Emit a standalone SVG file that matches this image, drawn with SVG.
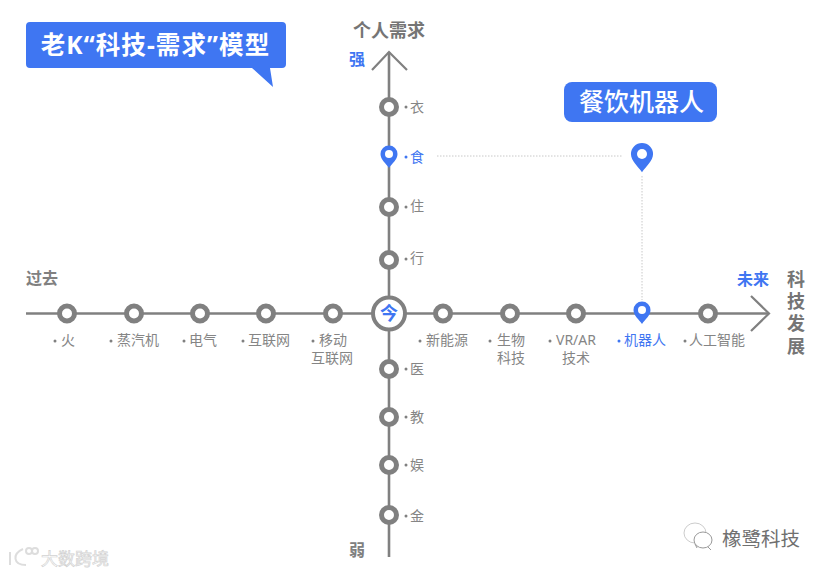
<svg xmlns="http://www.w3.org/2000/svg" width="827" height="574" viewBox="0 0 827 574">
<defs>
<style>
text{font-family:"Noto Sans","Noto Sans CJK SC",sans-serif}
.ax{stroke:#808080;stroke-width:2.600;fill:none}
.ah{stroke:#808080;stroke-width:2.200;fill:none}
.ring{fill:#fff;stroke:#808080;stroke-width:5}
.now{fill:#fff;stroke:#808080;stroke-width:4}
.l{font-size:14px;fill:#858585}
.b{fill:#3f76f2}
.lb{font-size:14px;fill:#3f76f2}
.h{font-size:16px;fill:#808080;font-weight:700}
.h2{font-size:18px;fill:#757575;font-weight:700}
.hb{font-size:16px;fill:#3f76f2;font-weight:700}
.dot{stroke:#c8c8c8;stroke-width:1;stroke-dasharray:1.5 1.5;fill:none}
.m{text-anchor:middle}
</style>
<path id="pin" d="M0 11C-3 6.500-8.500 2.500-8.500-3A8.500 8.500 0 0 1 8.500-3C8.500 2.500 3 6.500 0 11Z" fill="#3f76f2"/>
</defs>
<rect width="827" height="574" fill="#fff"/>
<g id="connectors">
<path class="ax" d="M26 313.500H768"/>
<path class="ax" d="M389 52V557"/>
<path class="ah" d="M751 296L769 313.500L751 331"/>
<path class="ah" d="M372 70L389 52L407 70"/>
<path class="dot" d="M437 156H622"/>
<path class="dot" d="M642 176V300"/>
</g>
<g id="title"><path class="b" d="M30 22H282a4 4 0 0 1 4 4V64a4 4 0 0 1-4 4H270L273 87L252 68H30a4 4 0 0 1-4-4V26a4 4 0 0 1 4-4Z"/><text x="155.500" y="54" class="m" font-size="24.500" font-weight="700" letter-spacing="1.100" fill="#fff">老K“科技-需求”模型</text></g>
<g id="label-restaurant"><rect x="564" y="82" width="153" height="40" rx="8" class="b"/><text x="641.500" y="111" class="m" font-size="25" font-weight="500" fill="#fff">餐饮机器人</text></g>
<g id="axis-labels">
<text x="389" y="37" class="h2 m">个人需求</text>
<text x="357" y="65" class="hb m">强</text>
<text x="357" y="556" class="h m">弱</text>
<text x="42" y="284" class="h m">过去</text>
<text x="753" y="285" class="hb m">未来</text>
<text x="796" y="286" class="h2 m">科</text>
<text x="796" y="308" class="h2 m">技</text>
<text x="796" y="330" class="h2 m">发</text>
<text x="796" y="353" class="h2 m">展</text>
</g>
<g id="now"><circle cx="389" cy="313.500" r="16" class="now"/><text x="389" y="320" class="m" font-size="18" font-weight="700" fill="#3f76f2">今</text></g>
<g id="n-huo"><circle cx="67" cy="313.500" r="7.500" class="ring"/><text x="68" y="345" class="l m">火</text><circle cx="55" cy="341" r="1.500" fill="#808080"/></g>
<g id="n-steam"><circle cx="134" cy="313.500" r="7.500" class="ring"/><text x="138" y="345" class="l m">蒸汽机</text><circle cx="111" cy="341" r="1.500" fill="#808080"/></g>
<g id="n-elec"><circle cx="200" cy="313.500" r="7.500" class="ring"/><text x="203" y="345" class="l m">电气</text><circle cx="184" cy="341" r="1.500" fill="#808080"/></g>
<g id="n-net"><circle cx="266" cy="313.500" r="7.500" class="ring"/><text x="269" y="345" class="l m">互联网</text><circle cx="243" cy="341" r="1.500" fill="#808080"/></g>
<g id="n-mobile"><circle cx="333" cy="313.500" r="7.500" class="ring"/><text class="l m"><tspan x="333" y="345">移动</tspan><tspan x="332" y="363">互联网</tspan></text><circle cx="313" cy="341" r="1.500" fill="#808080"/></g>
<g id="n-energy"><circle cx="443" cy="313.500" r="7.500" class="ring"/><text x="447" y="345" class="l m">新能源</text><circle cx="420" cy="341" r="1.500" fill="#808080"/></g>
<g id="n-bio"><circle cx="510" cy="313.500" r="7.500" class="ring"/><text class="l m"><tspan x="511" y="345">生物</tspan><tspan x="511" y="363">科技</tspan></text><circle cx="490" cy="341" r="1.500" fill="#808080"/></g>
<g id="n-vr"><circle cx="576" cy="313.500" r="7.500" class="ring"/><text class="l m"><tspan x="576" y="345">VR/AR</tspan><tspan x="576" y="363">技术</tspan></text><circle cx="550" cy="341" r="1.500" fill="#808080"/></g>
<g id="n-robot"><use href="#pin" x="642" y="313"/><circle cx="642" cy="310" r="4" fill="#fff"/><text x="645" y="345" class="lb m">机器人</text><circle cx="619" cy="341" r="1.500" fill="#3f76f2"/></g>
<g id="n-ai"><circle cx="708" cy="313.500" r="7.500" class="ring"/><text x="717" y="345" class="l m">人工智能</text><circle cx="685" cy="341" r="1.500" fill="#808080"/></g>
<g id="n-yi"><circle cx="389" cy="107" r="7.500" class="ring"/><text x="417" y="112" class="l m">衣</text><circle cx="406" cy="107" r="1.500" fill="#808080"/></g>
<g id="n-shi"><use href="#pin" x="389" y="157"/><circle cx="389" cy="154" r="4" fill="#fff"/><text x="417" y="162" class="lb m">食</text><circle cx="406" cy="157" r="1.500" fill="#3f76f2"/></g>
<g id="n-zhu"><circle cx="389" cy="207" r="7.500" class="ring"/><text x="417" y="211" class="l m">住</text><circle cx="406" cy="207" r="1.500" fill="#808080"/></g>
<g id="n-xing"><circle cx="389" cy="260" r="7.500" class="ring"/><text x="417" y="263" class="l m">行</text><circle cx="406" cy="259" r="1.500" fill="#808080"/></g>
<g id="n-health"><circle cx="389" cy="369" r="7.500" class="ring"/><text x="417" y="374" class="l m">医</text><circle cx="406" cy="369" r="1.500" fill="#808080"/></g>
<g id="n-edu"><circle cx="389" cy="417" r="7.500" class="ring"/><text x="417" y="422" class="l m">教</text><circle cx="406" cy="417" r="1.500" fill="#808080"/></g>
<g id="n-fun"><circle cx="389" cy="465" r="7.500" class="ring"/><text x="417" y="470" class="l m">娱</text><circle cx="406" cy="465" r="1.500" fill="#808080"/></g>
<g id="n-fin"><circle cx="389" cy="515" r="7.500" class="ring"/><text x="417" y="521" class="l m">金</text><circle cx="406" cy="516" r="1.500" fill="#808080"/></g>
<g id="big-pin"><use href="#pin" transform="translate(642 158) scale(1.300)"/><circle cx="642" cy="154" r="5" fill="#fff"/></g>
<g id="watermarks">
<text x="75" y="565" class="m" font-size="17" fill="#fff" stroke="#d2d2d2" stroke-width=".7">大数跨境</text>
<text x="761" y="546" class="m" font-size="19.500" fill="#707070">橡鹭科技</text>
<g fill="#fff" stroke="#999" stroke-width="1"><ellipse cx="695" cy="533" rx="11" ry="10" stroke="#ccc"/><path d="M697 548l-2-4"/><ellipse cx="703" cy="540" rx="9" ry="8"/><path d="M708 547l3 3"/></g>
<g fill="none" stroke="#ddd" stroke-width="2"><path d="M10 552V565M23 549C12 554 13 565 26 565"/><circle cx="29" cy="551" r="3"/><circle cx="35" cy="551" r="3"/></g>
</g>
</svg>
